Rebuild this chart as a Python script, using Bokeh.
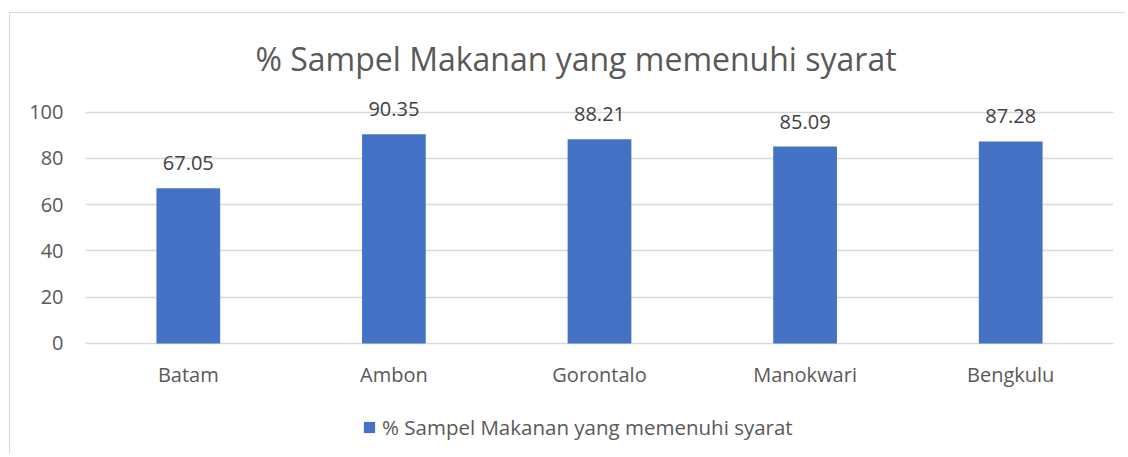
from bokeh.plotting import figure
from bokeh.models import ColumnDataSource, FactorRange, Legend, LegendItem
from bokeh.core.properties import value
from bokeh.embed import file_html
from bokeh.resources import INLINE

cities = ["Batam", "Ambon", "Gorontalo", "Manokwari", "Bengkulu"]
percent = [67.05, 90.35, 88.21, 85.09, 87.28]
labels = ["67.05", "90.35", "88.21", "85.09", "87.28"]
series_name = "% Sampel Makanan yang memenuhi syarat"
y_ticks = [0, 20, 40, 60, 80, 100]

FONT = "Open Sans"
src = ColumnDataSource(dict(x=cities, y=percent, lab=labels))

p = figure(x_range=FactorRange(*cities), y_range=(-48.4, 108),
           width=1116, height=442, output_backend="svg", toolbar_location=None,
           min_border_left=75, min_border_right=13, min_border_top=80, min_border_bottom=0)
p.styles = {"border-left": "1px solid #d9d9d9", "border-top": "1px solid #d9d9d9",
            "margin-left": "9px", "margin-top": "12px"}
p.outline_line_color = None
p.x_range.range_padding = 0
p.x_range.factor_padding = 0

p.title.text = series_name
p.title.text_font = FONT
p.title.text_font_size = "32px"
p.title.text_font_style = "normal"
p.title.text_color = "#595959"
p.title.align = "left"
p.title.offset = 170
p.title.standoff = 27

bars = p.vbar(x="x", top="y", width=0.31, source=src, fill_color="#4472C4", line_color=None)
p.text(x="x", y="y", text="lab", source=src, text_align="center", text_baseline="bottom",
       y_offset=-18, text_font=value(FONT), text_font_size="20px", text_color="#404040")

p.xgrid.grid_line_color = None
p.ygrid.grid_line_color = "#d9d9d9"
p.ygrid.grid_line_width = 1.3
p.yaxis.ticker = y_ticks
for ax in (p.xaxis, p.yaxis):
    ax.axis_line_color = None
    ax.major_tick_line_color = None
    ax.minor_tick_line_color = None
    ax.major_tick_out = 0
    ax.major_tick_in = 0
    ax.major_label_text_font = FONT
    ax.major_label_text_font_size = "20px"
    ax.major_label_text_color = "#595959"
p.yaxis.major_label_standoff = 22
p.xaxis.major_label_standoff = 18
p.xaxis.fixed_location = 0

legend = Legend(items=[LegendItem(label=series_name, renderers=[bars])],
                orientation="horizontal", location=(277, 14),
                label_text_font=FONT, label_text_font_size="20.5px", label_text_color="#595959",
                glyph_width=14, glyph_height=14, label_standoff=6,
                padding=0, margin=0, border_line_color=None, background_fill_alpha=0)
p.add_layout(legend, "center")

open("out.html", "w").write(file_html(p, INLINE))
